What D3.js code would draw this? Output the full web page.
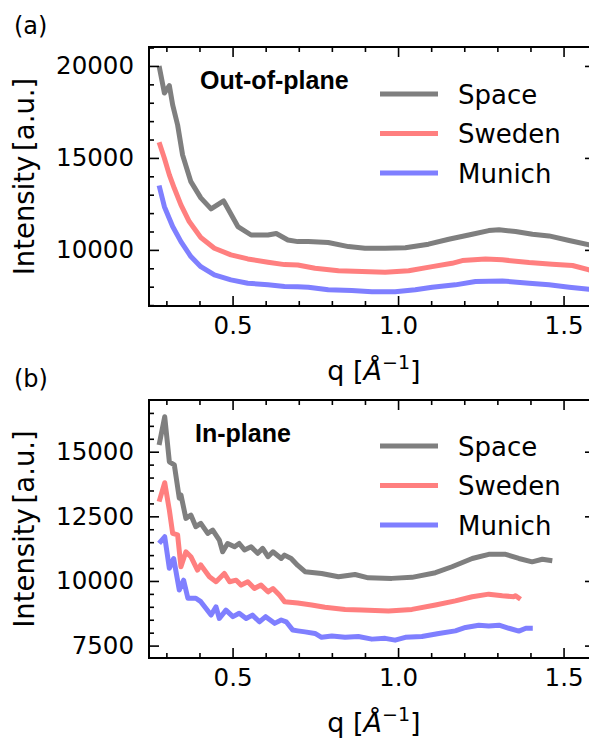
<!DOCTYPE html>
<meta charset="utf-8">
<head>
  <title>GIWAXS line cuts</title>
</head>

<style>
body { margin: 0; background: white; }
text {
  font-family: "DejaVu Sans", sans-serif;
  fill: black;
}
.tick line { stroke: black; stroke-width: 1.6; }
.curve { fill: none; stroke-width: 5; stroke-linejoin: round; }
</style>

<body>
  <svg width="589" height="739"></svg>

  <script src="https://cdnjs.cloudflare.com/ajax/libs/d3/7.8.5/d3.min.js"></script>
  <script>
// series names and colours
var names = ["Space", "Sweden", "Munich"];
var colors = ["#7f7f7f", "#ff7f7f", "#7f7fff"];

// (a) out-of-plane cuts
var oopSpaceQ = [0.278, 0.294, 0.309, 0.319, 0.334, 0.349, 0.374, 0.404, 0.435, 0.473, 0.516, 0.556, 0.607, 0.632, 0.667, 0.697, 0.729, 0.789, 0.850, 0.900, 0.961, 1.022, 1.092, 1.153, 1.224, 1.274, 1.305, 1.355, 1.406, 1.456, 1.517, 1.577, 1.600];
var oopSpace = [20000, 18530, 18930, 17880, 16790, 15160, 13710, 12830, 12230, 12660, 11270, 10810, 10810, 10890, 10540, 10450, 10450, 10400, 10180, 10090, 10090, 10120, 10310, 10580, 10850, 11050, 11090, 11000, 10850, 10760, 10510, 10270, 10180];
var oopSwedenQ = [0.278, 0.294, 0.309, 0.324, 0.344, 0.369, 0.404, 0.445, 0.495, 0.546, 0.607, 0.657, 0.697, 0.749, 0.820, 0.891, 0.961, 1.032, 1.103, 1.163, 1.194, 1.264, 1.315, 1.396, 1.466, 1.527, 1.577, 1.600];
var oopSweden = [15850, 14980, 14080, 13350, 12450, 11540, 10670, 10090, 9730, 9510, 9330, 9200, 9180, 9000, 8870, 8820, 8790, 8870, 9090, 9270, 9420, 9510, 9460, 9310, 9220, 9150, 8910, 8850];
var oopMunichQ = [0.278, 0.294, 0.319, 0.344, 0.374, 0.404, 0.445, 0.495, 0.546, 0.607, 0.657, 0.697, 0.729, 0.789, 0.860, 0.921, 0.991, 1.052, 1.103, 1.173, 1.234, 1.315, 1.396, 1.456, 1.517, 1.577, 1.600];
var oopMunich = [13500, 12350, 11270, 10450, 9640, 9090, 8640, 8370, 8190, 8100, 8010, 7990, 7970, 7830, 7790, 7730, 7730, 7830, 7970, 8100, 8280, 8310, 8190, 8100, 7970, 7860, 7830];

// (b) in-plane cuts
var ipSpaceQ = [0.278, 0.295, 0.309, 0.324, 0.339, 0.344, 0.359, 0.374, 0.389, 0.404, 0.425, 0.440, 0.460, 0.470, 0.485, 0.506, 0.520, 0.536, 0.556, 0.576, 0.591, 0.607, 0.622, 0.647, 0.657, 0.677, 0.697, 0.719, 0.769, 0.820, 0.870, 0.910, 0.981, 1.042, 1.113, 1.163, 1.224, 1.274, 1.325, 1.365, 1.405, 1.436, 1.466];
var ipSpace = [15260, 16350, 14610, 14490, 13200, 13330, 12420, 12550, 12100, 12230, 11840, 11970, 11580, 11130, 11450, 11320, 11450, 11200, 11320, 11070, 11260, 10940, 11130, 10870, 11000, 10870, 10600, 10360, 10290, 10160, 10250, 10120, 10100, 10140, 10320, 10550, 10870, 11030, 11030, 10870, 10740, 10840, 10780];
var ipSwedenQ = [0.278, 0.295, 0.309, 0.319, 0.334, 0.344, 0.359, 0.374, 0.394, 0.404, 0.430, 0.450, 0.475, 0.491, 0.511, 0.526, 0.546, 0.566, 0.586, 0.607, 0.622, 0.642, 0.657, 0.697, 0.739, 0.779, 0.840, 0.890, 0.971, 1.042, 1.113, 1.173, 1.224, 1.274, 1.315, 1.350, 1.355, 1.370];
var ipSweden = [13070, 13800, 12740, 11840, 11780, 10550, 11130, 10940, 10420, 10620, 10160, 9970, 10290, 9970, 10030, 9840, 9970, 9710, 9840, 9580, 9710, 9450, 9200, 9150, 9070, 8980, 8900, 8880, 8840, 8900, 9070, 9230, 9390, 9490, 9430, 9390, 9430, 9290];
var ipMunichQ = [0.278, 0.295, 0.309, 0.322, 0.339, 0.352, 0.365, 0.389, 0.404, 0.435, 0.450, 0.460, 0.480, 0.501, 0.520, 0.541, 0.560, 0.581, 0.600, 0.627, 0.647, 0.662, 0.682, 0.697, 0.719, 0.749, 0.769, 0.800, 0.840, 0.880, 0.921, 0.961, 0.991, 1.022, 1.072, 1.123, 1.173, 1.204, 1.244, 1.274, 1.305, 1.335, 1.365, 1.386, 1.407];
var ipMunich = [11450, 11710, 10490, 10870, 9650, 10030, 9330, 9330, 9200, 8680, 9000, 8550, 8870, 8620, 8750, 8550, 8680, 8420, 8620, 8360, 8490, 8420, 8100, 8070, 8030, 7970, 7820, 7870, 7820, 7850, 7750, 7780, 7710, 7820, 7850, 7970, 8070, 8200, 8290, 8260, 8290, 8170, 8060, 8170, 8170];

// axis ticks
var xMajor = [0.5, 1.0, 1.5];
var xMinor = [0.3, 0.4, 0.6, 0.7, 0.8, 0.9, 1.1, 1.2, 1.3, 1.4];
var oopYMajor = [10000, 15000, 20000];
var oopYMinor = [7000, 8000, 9000, 11000, 12000, 13000, 14000, 16000, 17000, 18000, 19000, 21000];
var ipYMajor = [7500, 10000, 12500, 15000];
var ipYMinor = [8000, 8500, 9000, 9500, 10500, 11000, 11500, 12000, 13000, 13500, 14000, 14500, 15500, 16000, 16500];

var svg = d3.select('svg');
var left = 149, right = 595;

function panel(cfg) {
  var x = d3.scaleLinear().domain([0.2475, 1.595]).range([left, right]);
  var y = d3.scaleLinear().domain(cfg.yDomain).range([cfg.bottom, cfg.top]);
  var g = svg.append('g');
  var h = cfg.bottom - cfg.top;

  g.append('clipPath').attr('id', 'clip' + cfg.id)
    .append('rect').attr('x', left).attr('y', cfg.top)
    .attr('width', right - left).attr('height', h);

  // curves
  var line = d3.line().x(function(d) { return x(d[0]); }).y(function(d) { return y(d[1]); });
  cfg.series.forEach(function(s, i) {
    g.append('path')
      .attr('class', 'curve')
      .attr('clip-path', 'url(#clip' + cfg.id + ')')
      .attr('stroke', colors[i])
      .attr('d', line(d3.zip(s[0], s[1])));
  });

  // ticks, inward on all four sides
  function ax(gen, tx, ty, vals, size, fmt, pad) {
    var a = g.append('g').attr('transform', 'translate(' + tx + ',' + ty + ')')
      .call(gen.tickValues(vals).tickSize(-size).tickPadding(pad || 13)
        .tickFormat(fmt ? d3.format(fmt) : ''));
    a.select('.domain').remove();
    a.selectAll('text')
      .style('font-family', '"DejaVu Sans", sans-serif')
      .style('font-size', '24.5px')
      .style('fill', 'black');
    return a;
  }
  ax(d3.axisBottom(x), 0, cfg.bottom, xMajor, 10, '.1f', 11);
  ax(d3.axisBottom(x), 0, cfg.bottom, xMinor, 5, null);
  ax(d3.axisTop(x), 0, cfg.top, xMajor, 10, null);
  ax(d3.axisTop(x), 0, cfg.top, xMinor, 5, null);
  ax(d3.axisLeft(y), left, 0, cfg.yMajor, 10, 'd', 15);
  ax(d3.axisLeft(y), left, 0, cfg.yMinor, 5, null);
  ax(d3.axisRight(y), right, 0, cfg.yMajor, 10, null);
  ax(d3.axisRight(y), right, 0, cfg.yMinor, 5, null);

  // frame
  g.append('rect').attr('x', left).attr('y', cfg.top)
    .attr('width', right - left).attr('height', h)
    .attr('fill', 'none').attr('stroke', 'black').attr('stroke-width', 2);

  // panel letter
  g.append('text').attr('x', 14).attr('y', cfg.top - 13)
    .style('font-size', '24px').text(cfg.letter);

  // y title
  g.append('text')
    .attr('transform', 'translate(34,' + (cfg.top + h / 2) + ') rotate(-90)')
    .attr('text-anchor', 'middle')
    .style('font-size', '27.5px').style('word-spacing', '-4px')
    .text('Intensity [a.u.]');

  // x title
  var xt = g.append('text').attr('x', (left + right) / 2 + 2).attr('y', cfg.bottom + 74)
    .attr('text-anchor', 'middle').style('font-size', '27px');
  xt.append('tspan').text('q [');
  xt.append('tspan').style('font-style', 'italic').text('Å');
  xt.append('tspan').attr('dy', -11).style('font-size', '19px').text('\u22121');
  xt.append('tspan').attr('dy', 11).text(']');

  // inset label
  g.append('text').attr('x', cfg.labelX).attr('y', cfg.top + cfg.labelDy)
    .style('font-family', '"Liberation Sans", Arial, sans-serif')
    .style('font-weight', 'bold').style('font-size', '25px')
    .text(cfg.label);

  // legend
  names.forEach(function(n, i) {
    var ly = cfg.top + cfg.legendDy + i * 39.5;
    g.append('line').attr('x1', 380).attr('x2', 438).attr('y1', ly).attr('y2', ly)
      .attr('stroke', colors[i]).attr('stroke-width', 5);
    g.append('text').attr('x', 458).attr('y', ly + 9.5)
      .style('font-size', '26px').text(n);
  });
}

panel({
  id: 'a', letter: '(a)', label: 'Out-of-plane', labelX: 200, labelDy: 42,
  top: 47, bottom: 306, yDomain: [6950, 21030],
  yMajor: oopYMajor, yMinor: oopYMinor, legendDy: 47,
  series: [[oopSpaceQ, oopSpace], [oopSwedenQ, oopSweden], [oopMunichQ, oopMunich]]
});

panel({
  id: 'b', letter: '(b)', label: 'In-plane', labelX: 195, labelDy: 42,
  top: 400, bottom: 658, yDomain: [7020, 17000],
  yMajor: ipYMajor, yMinor: ipYMinor, legendDy: 46,
  series: [[ipSpaceQ, ipSpace], [ipSwedenQ, ipSweden], [ipMunichQ, ipMunich]]
});
  </script>
</body>
</html>
